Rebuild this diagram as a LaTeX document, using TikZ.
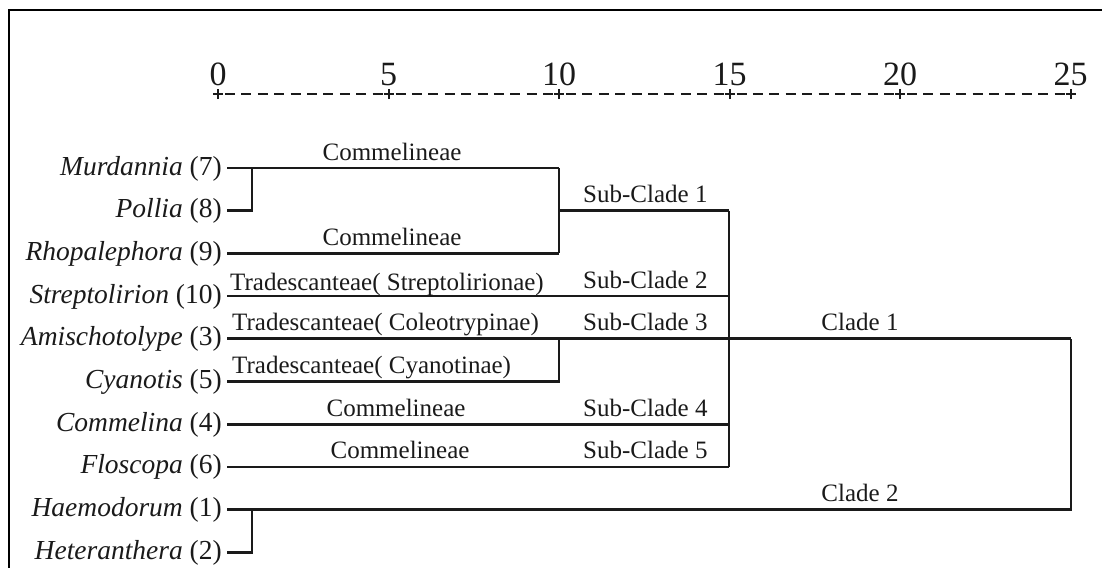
\documentclass[tikz,border=0pt]{standalone}
\usepackage{fontspec}
\setmainfont{Liberation Serif}
\definecolor{ink}{HTML}{1A1A1A}
\tikzset{
  branch/.style={draw=ink, line width=2.7pt},
  frameline/.style={draw=black, line width=1.6pt},
  taxon/.style={anchor=base east, text=ink, inner sep=0pt, font=\fontsize{27.5}{30}\selectfont},
  tribe/.style={anchor=base, text=ink, inner sep=0pt, font=\fontsize{25}{27}\selectfont},
  tribeL/.style={anchor=base west, text=ink, inner sep=0pt, font=\fontsize{25}{27}\selectfont},
  axisnum/.style={anchor=base, text=ink, inner sep=0pt, font=\fontsize{34}{36}\selectfont},
  tick/.style={draw=ink, line width=2pt},
  dashline/.style={draw=ink, line width=2.4pt, dash pattern=on 10pt off 6.4pt},
}
\begin{document}
\begin{tikzpicture}[x=1pt,y=-1pt]
\useasboundingbox (0,0) rectangle (1102,568);
% frame
\coordinate (fTL) at (9,10);
\coordinate (fTR) at (1102,10);
\coordinate (fBL) at (9,568);
\draw[frameline] (fTR) -- (fTL) -- (fBL);

% axis
\foreach \t/\lab [count=\i] in {0/0,5/5,10/10,15/15,20/20,25/25}{
  \node[axisnum] (n\i) at ({218+34.1*\t},85) {\lab};
  \coordinate (k\i) at ({218+34.1*\t},94);
  \draw[tick] ([xshift=-5pt]k\i) -- ([xshift=5pt]k\i);
  \draw[tick] ([yshift=-5pt]k\i) -- ([yshift=5pt]k\i);
}
\foreach \a/\b in {1/2,2/3,3/4,4/5,5/6}{
  \draw[dashline] ([xshift=7pt]k\a) -- ([xshift=-5pt]k\b);
}

% taxa
\node[taxon] (t0) at (222,175)   {\textit{Murdannia} (7)};
\node[taxon] (t1) at (222,217.7) {\textit{Pollia} (8)};
\node[taxon] (t2) at (222,260.4) {\textit{Rhopalephora} (9)};
\node[taxon] (t3) at (222,303.1) {\textit{Streptolirion} (10)};
\node[taxon] (t4) at (222,345.8) {\textit{Amischotolype} (3)};
\node[taxon] (t5) at (222,388.5) {\textit{Cyanotis} (5)};
\node[taxon] (t6) at (222,431.2) {\textit{Commelina} (4)};
\node[taxon] (t7) at (222,473.9) {\textit{Floscopa} (6)};
\node[taxon] (t8) at (222,516.6) {\textit{Haemodorum} (1)};
\node[taxon] (t9) at (222,559.3) {\textit{Heteranthera} (2)};

% leaf start points
\coordinate (s0) at (227,168);
\coordinate (s1) at (227,210.7);
\coordinate (s2) at (227,253.4);
\coordinate (s3) at (227,296.1);
\coordinate (s4) at (227,338.8);
\coordinate (s5) at (227,381.5);
\coordinate (s6) at (227,424.2);
\coordinate (s7) at (227,466.9);
\coordinate (s8) at (227,509.6);
\coordinate (s9) at (227,552.3);

% junctions
\coordinate (a0) at (252,168);
\coordinate (a1) at (252,210.7);
\coordinate (b0) at (559,168);
\coordinate (b1) at (559,210.7);
\coordinate (b2) at (559,253.4);
\coordinate (b4) at (559,338.8);
\coordinate (b5) at (559,381.5);
\coordinate (c1) at (729,210.7);
\coordinate (c3) at (729,296.1);
\coordinate (c6) at (729,424.2);
\coordinate (c7) at (729,466.9);
\coordinate (d4) at (1071,338.8);
\coordinate (d8) at (1071,509.6);
\coordinate (a8) at (252,509.6);
\coordinate (a9) at (252,552.3);

% branches
\draw[branch] (s0) -- (b0);
\draw[branch] (s1) -- (a1) -- (a0);
\draw[branch] (s2) -- (b2);
\draw[branch] (b0) -- (b2);
\draw[branch] (b1) -- (c1);
\draw[branch] (c1) -- (c7);
\draw[branch] (s3) -- (c3);
\draw[branch] (s4) -- (d4);
\draw[branch] (s5) -- (b5) -- (b4);
\draw[branch] (s6) -- (c6);
\draw[branch] (s7) -- (c7);
\draw[branch] (s8) -- (d8) -- (d4);
\draw[branch] (s9) -- (a9) -- (a8);

% labels
\node[tribe] (l0) at (392,160) {Commelineae};
\node[tribe] (l2) at (392,245.4) {Commelineae};
\node[tribeL] (l3) at (230,290.1) {Tradescanteae( Streptolirionae)};
\node[tribeL] (l4) at (232,330.8) {Tradescanteae( Coleotrypinae)};
\node[tribeL] (l5) at (232,373.5) {Tradescanteae( Cyanotinae)};
\node[tribe] (l6) at (396,416.2) {Commelineae};
\node[tribe] (l7) at (400,458.9) {Commelineae};
\node[tribeL] (sc1) at (583,202.7) {Sub-Clade 1};
\node[tribeL] (sc2) at (583,288.1) {Sub-Clade 2};
\node[tribeL] (sc3) at (583,330.8) {Sub-Clade 3};
\node[tribeL] (sc4) at (583,416.2) {Sub-Clade 4};
\node[tribeL] (sc5) at (583,458.9) {Sub-Clade 5};
\node[tribe] (cl1) at (860,330.8) {Clade 1};
\node[tribe] (cl2) at (860,501.6) {Clade 2};
\end{tikzpicture}
\end{document}
